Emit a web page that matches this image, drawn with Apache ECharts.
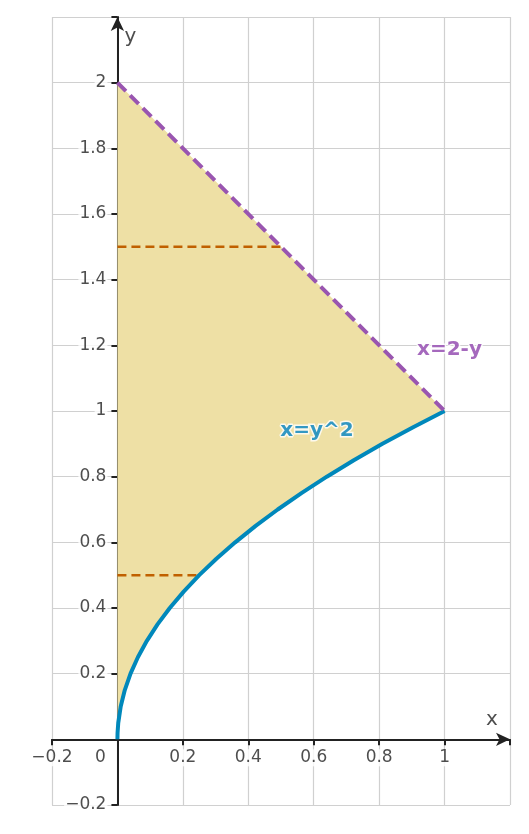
<!DOCTYPE html>
<html><head><meta charset="utf-8">
<script src="https://cdn.jsdelivr.net/npm/echarts@6/dist/echarts.min.js"></script>
<style>html,body{margin:0;padding:0;background:#fff}#c{width:529px;height:834px}</style>
</head><body><div id="c"></div>
<script>
var curveY = [0,0.02,0.05,0.1,0.15,0.2,0.25,0.3,0.35,0.4,0.45,0.5,0.55,0.6,0.65,0.7,0.75,0.8,0.85,0.9,0.95,1];
var curveX = [0,0.0004,0.0025,0.01,0.0225,0.04,0.0625,0.09,0.1225,0.16,0.2025,0.25,0.3025,0.36,0.4225,0.49,0.5625,0.64,0.7225,0.81,0.9025,1];
var lineX = [0,1];
var lineY = [2,1];
var dash1 = [[0,1.5],[0.5,1.5]];
var dash2 = [[0,0.5],[0.25,0.5]];
var xTicks = [-0.2,0,0.2,0.4,0.6,0.8,1];
var yTicks = [-0.2,0.2,0.4,0.6,0.8,1,1.2,1.4,1.6,1.8,2];

function fmt(v){var r=Math.round(v*10)/10;return (r<0?'\u2212':'')+String(Math.abs(r));}
var curve = curveX.map(function(x,i){return [x,curveY[i]];});
var poly = [[0,0]].concat(curve).concat([[lineX[1],lineY[1]],[lineX[0],lineY[0]]]);
var fontF = 'DejaVu Sans';
var xLab = xTicks.map(function(v){return {value:[v,0],label:{formatter:fmt(v),position:'bottom',distance:10,offset:[v===0?-17:0,0]}};});
var yLab = yTicks.map(function(v){return {value:[0,v],label:{formatter:fmt(v),position:'left',distance:10}};});
var chart = echarts.init(document.getElementById('c'));
chart.setOption({
  animation:false,
  grid:{left:52,right:19,top:17,bottom:29},
  xAxis:{type:'value',min:-0.2,max:1.2,interval:0.2,
    axisLine:{onZero:true,symbol:['none','arrow'],symbolSize:[10,14],lineStyle:{color:'#222',width:2}},
    axisTick:{show:true,length:6,lineStyle:{color:'#222',width:2}},
    axisLabel:{show:false},
    splitLine:{lineStyle:{color:'#d0d0d0',width:1.2}}},
  yAxis:{type:'value',min:-0.2,max:2.2,interval:0.2,
    axisLine:{onZero:true,symbol:['none','arrow'],symbolSize:[10,14],lineStyle:{color:'#222',width:2}},
    axisTick:{show:true,length:6,lineStyle:{color:'#222',width:2}},
    axisLabel:{show:false},
    splitLine:{lineStyle:{color:'#d0d0d0',width:1.2}}},
  series:[
    {type:'custom',z:1,data:[0],renderItem:function(p,api){
      return {type:'polygon',shape:{points:poly.map(function(q){return api.coord(q);})},
        style:{fill:'#eee0a5'}};}},
    {type:'line',data:dash1,symbol:'none',lineStyle:{color:'#c06000',width:2.5,type:[9,5]},z:3},
    {type:'line',data:dash2,symbol:'none',lineStyle:{color:'#c06000',width:2.5,type:[9,5]},z:3},
    {type:'line',data:curve,symbol:'none',smooth:false,lineStyle:{color:'#0088bb',width:4},z:4},
    {type:'line',data:lineX.map(function(x,i){return [x,lineY[i]];}),symbol:'none',lineStyle:{color:'#9955b0',width:4,type:[12,6]},z:4},
    {type:'scatter',symbolSize:0,z:6,silent:true,data:xLab.concat(yLab),
      label:{show:true,color:'#222',fontSize:17,fontFamily:fontF,backgroundColor:'#fff',padding:[0,1]}},
    {type:'scatter',symbolSize:0,z:6,silent:true,data:[
      {value:[1.015,1.185],label:{show:true,formatter:'x=2-y',color:'#8e44ad'}},
      {value:[0.61,0.94],label:{show:true,formatter:'x=y^2',color:'#0080b8'}},
      {value:[1.145,0.06],label:{show:true,formatter:'x',color:'#222',fontWeight:'normal',textBorderWidth:0,fontSize:20}},
      {value:[0.04,2.14],label:{show:true,formatter:'y',color:'#222',fontWeight:'normal',textBorderWidth:0,fontSize:20}}
    ],label:{show:true,position:'inside',fontSize:20,fontWeight:'bold',fontFamily:fontF,textBorderColor:'#fff',textBorderWidth:3}}
  ]
});
</script></body></html>
